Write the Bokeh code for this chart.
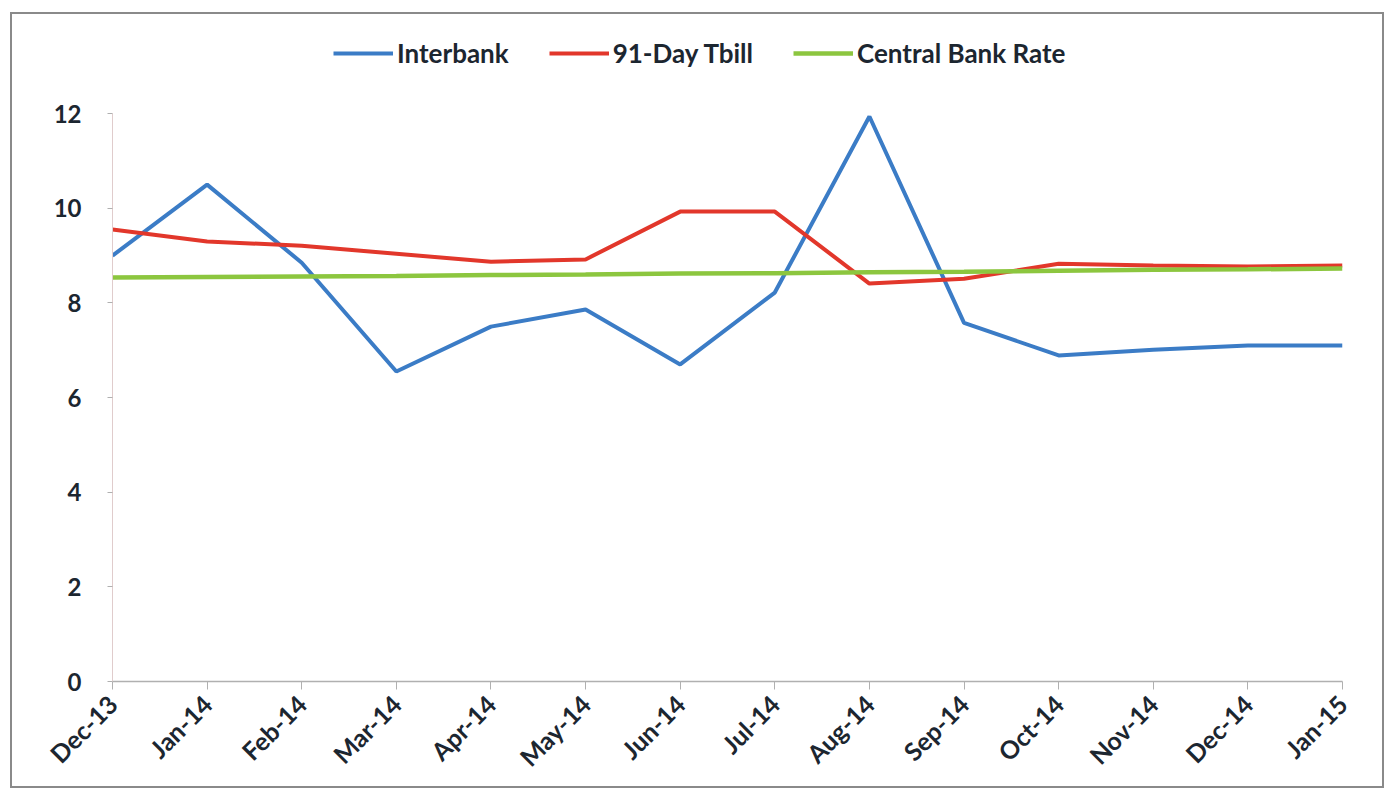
import math
from bokeh.plotting import figure
from bokeh.models import ColumnDataSource, FixedTicker, Legend, LegendItem, Range1d
from bokeh.embed import file_html
from bokeh.resources import INLINE

months = ["Dec-13", "Jan-14", "Feb-14", "Mar-14", "Apr-14", "May-14", "Jun-14",
          "Jul-14", "Aug-14", "Sep-14", "Oct-14", "Nov-14", "Dec-14", "Jan-15"]
interbank = [9.0, 10.5, 8.85, 6.55, 7.5, 7.86, 6.7, 8.22, 11.94, 7.58, 6.89, 7.01, 7.1, 7.1]
tbill = [9.55, 9.3, 9.21, 9.04, 8.87, 8.92, 9.93, 9.93, 8.41, 8.51, 8.83, 8.79, 8.77, 8.79]
cbr = [8.54, 8.55, 8.56, 8.57, 8.59, 8.6, 8.62, 8.63, 8.65, 8.66, 8.68, 8.7, 8.71, 8.73]
y_ticks = [0, 2, 4, 6, 8, 10, 12]

FONT = "Lato"
TEXT = "#1c2630"
idx = list(range(len(months)))
src = ColumnDataSource(dict(x=idx, interbank=interbank, tbill=tbill, cbr=cbr))

p = figure(width=1374, height=776, output_backend="svg", toolbar_location=None,
           x_range=Range1d(0, len(months) - 1), y_range=Range1d(0, 13.8),
           min_border_left=100, min_border_right=44, min_border_top=14, min_border_bottom=109,
           styles={"border": "2px solid #8a8a8a", "margin-left": "10px", "margin-top": "12px"})
p.outline_line_color = None
p.xgrid.visible = False
p.ygrid.visible = False
p.background_fill_color = "white"
p.border_fill_color = "white"

r1 = p.line("x", "interbank", source=src, line_color="#3b7cc6", line_width=4)
r2 = p.line("x", "tbill", source=src, line_color="#e2372b", line_width=4)
r3 = p.line("x", "cbr", source=src, line_color="#8cc63f", line_width=4.5)

xa = p.xaxis[0]
xa.ticker = FixedTicker(ticks=idx)
xa.major_label_overrides = {i: m for i, m in enumerate(months)}
xa.major_label_orientation = math.pi / 4
xa.major_label_text_font = FONT
xa.major_label_text_font_size = "25px"
xa.major_label_text_font_style = "bold"
xa.major_label_text_color = TEXT
xa.axis_line_color = "#b0b0b0"
xa.axis_line_width = 1.5
xa.major_tick_line_color = "#b0b0b0"
xa.major_tick_in = 0
xa.major_tick_out = 8
xa.minor_tick_line_color = None
xa.major_label_standoff = 10

ya = p.yaxis[0]
ya.ticker = FixedTicker(ticks=y_ticks)
ya.bounds = (0, 12)
ya.major_label_text_font = FONT
ya.major_label_text_font_size = "24px"
ya.major_label_text_font_style = "bold"
ya.major_label_text_color = TEXT
ya.axis_line_color = "#e0cccc"
ya.major_tick_line_color = "#b0b0b0"
ya.major_tick_in = 0
ya.major_tick_out = 5
ya.minor_tick_line_color = None
ya.major_label_standoff = 26

legend = Legend(items=[LegendItem(label="Interbank", renderers=[r1]),
                       LegendItem(label="91-Day Tbill", renderers=[r2]),
                       LegendItem(label="Central Bank Rate", renderers=[r3])],
                orientation="horizontal", location=(221, 612))
legend.label_text_font = FONT
legend.label_text_font_size = "26px"
legend.label_text_font_style = "bold"
legend.label_text_color = TEXT
legend.glyph_width = 60
legend.glyph_height = 26
legend.label_standoff = 4
legend.spacing = 40
legend.padding = 0
legend.margin = 0
legend.border_line_color = None
legend.background_fill_alpha = 0
p.add_layout(legend)

open("out.html", "w").write(file_html(p, INLINE))
